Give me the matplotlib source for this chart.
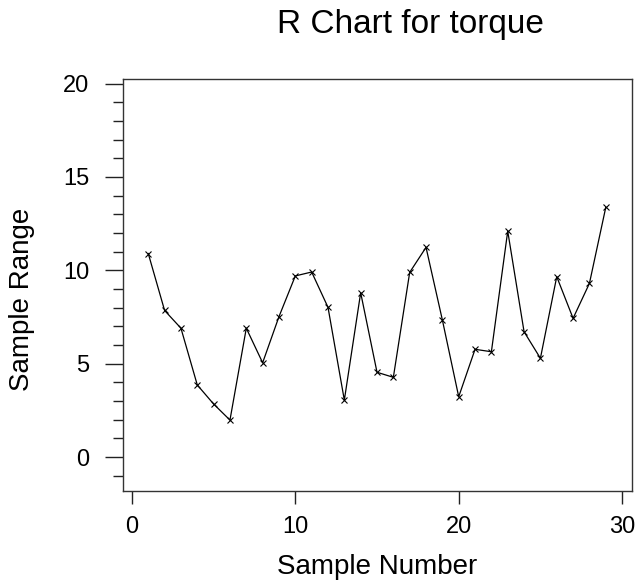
import matplotlib as mpl
mpl.use('Agg')
import matplotlib.pyplot as plt
from matplotlib.ticker import MultipleLocator

# sample ranges
sample_number = list(range(1, 30))
sample_range = [10.9, 7.85, 6.9, 3.86, 2.84, 1.98, 6.9, 5.05, 7.52, 9.7,
                9.91, 8.02, 3.05, 8.8, 4.54, 4.27, 9.89, 11.23, 7.34, 3.23,
                5.77, 5.64, 12.1, 6.71, 5.29, 9.66, 7.43, 9.3, 13.37]
x_ticks = [0, 10, 20, 30]
y_ticks = [0, 5, 10, 15, 20]

plt.rcParams['font.family'] = ['Liberation Sans', 'DejaVu Sans']

fig = plt.figure(figsize=(6.37, 5.87), dpi=100)
ax = fig.add_axes([0.193, 0.1635, 0.799, 0.702])

ax.plot(sample_number, sample_range, color='black', linewidth=0.9,
        marker='x', markersize=5, markeredgewidth=0.8)

ax.set_xlim(-0.55, 30.6)
ax.set_ylim(-1.82, 20.25)
ax.set_xticks(x_ticks)
ax.set_yticks(y_ticks)
ax.yaxis.set_minor_locator(MultipleLocator(1))
ax.tick_params(axis='both', which='major', labelsize=17, color='#222222', width=1)
ax.tick_params(axis='y', which='major', length=13, pad=11)
ax.tick_params(axis='y', which='minor', length=7, width=1, color='#222222')
ax.tick_params(axis='x', which='major', length=9, pad=9)
for s in ax.spines.values():
    s.set_color('#333333')
    s.set_linewidth(1)

ax.set_xlabel('Sample Number', fontsize=20, va='center')
ax.xaxis.set_label_coords(0.5, -0.184)
ax.set_ylabel('Sample Range', fontsize=20, va='center')
ax.yaxis.set_label_coords(-0.198, 0.464)
ax.text(0.564, 1.112, 'R Chart for torque', transform=ax.transAxes,
        fontsize=24, ha='center', va='baseline')

plt.savefig('out.png', dpi=100)
